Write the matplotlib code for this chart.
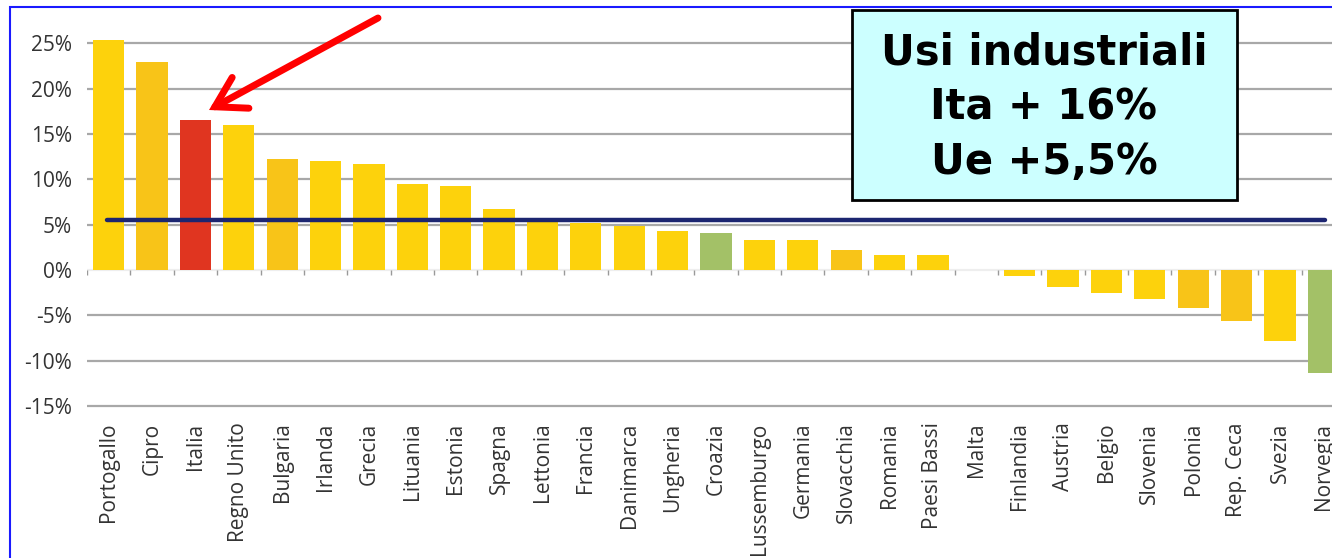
import numpy as np
import matplotlib.pyplot as plt
from matplotlib.patches import Rectangle, FancyArrowPatch

countries = ["Portogallo", "Cipro", "Italia", "Regno Unito", "Bulgaria", "Irlanda",
             "Grecia", "Lituania", "Estonia", "Spagna", "Lettonia", "Francia",
             "Danimarca", "Ungheria", "Croazia", "Lussemburgo", "Germania",
             "Slovacchia", "Romania", "Paesi Bassi", "Malta", "Finlandia",
             "Austria", "Belgio", "Slovenia", "Polonia", "Rep. Ceca", "Svezia",
             "Norvegia"]
values = [25.4, 23.0, 16.6, 16.0, 12.2, 12.0, 11.7, 9.5, 9.3, 6.7, 5.5, 5.2,
          4.9, 4.3, 4.1, 3.3, 3.3, 2.2, 1.7, 1.7, 0.0, -0.7, -1.9, -2.5, -3.2,
          -4.2, -5.6, -7.8, -11.4]
ue_avg = 5.5
yticks = [-15, -10, -5, 0, 5, 10, 15, 20, 25]

YEL = "#FDD20C"
ORA = "#F8C418"
RED = "#E03520"
GRN = "#A3C167"
shade = {"Cipro": ORA, "Bulgaria": ORA, "Slovacchia": ORA, "Polonia": ORA,
         "Rep. Ceca": ORA, "Italia": RED, "Croazia": GRN, "Norvegia": GRN}
colors = [shade.get(c, YEL) for c in countries]

W, H = 1332, 558
fig = plt.figure(figsize=(W / 100, H / 100), dpi=100)
ax = fig.add_axes([87 / W, 1 - 410 / H, 1245 / W, 372 / H])

x = np.arange(len(countries))
ax.set_xlim(-0.5, 28.2)
ax.set_ylim(-15.45, 25.6)

for t in yticks:
    ax.axhline(t, color="#eeeeee" if t == 0 else "#a8a8a8", lw=1.6, zorder=0)

ax.bar(x, values, width=0.72, color=colors, zorder=2)
ax.vlines(x - 0.5, -0.6, 0, color="#999999", lw=1, zorder=1)

ax.plot([x[0] - 0.05, x[-1] + 0.05], [ue_avg, ue_avg], color="#1c2570",
        lw=3.2, solid_capstyle="round", zorder=3)

ax.set_yticks(yticks)
ax.set_yticklabels([f"{t}%" for t in yticks], fontsize=15, color="#333333",
                   family="Open Sans")
ax.set_xticks(x)
ax.set_xticklabels(countries, rotation=90, fontsize=15, color="#333333",
                   va="top", family="Open Sans")
ax.tick_params(axis="both", length=0)
ax.tick_params(axis="y", pad=11)
ax.tick_params(axis="x", pad=9)
for s in ax.spines.values():
    s.set_visible(False)

# box with the summary
fig.add_artist(Rectangle((852 / W, 1 - 200 / H), 385 / W, 190 / H,
                         transform=fig.transFigure, facecolor="#ccffff",
                         edgecolor="black", lw=2, zorder=5))
fig.text(1044 / W, 1 - 107 / H, "Usi industriali\nIta + 16%\nUe +5,5%",
         ha="center", va="center", fontsize=30, fontweight="bold",
         linespacing=1.38, family="DejaVu Sans", zorder=6)

# arrow pointing at Italia
fig.add_artist(FancyArrowPatch((378 / W, 1 - 18 / H), (209 / W, 1 - 110 / H),
                               transform=fig.transFigure,
                               arrowstyle="->,head_length=1.0,head_width=0.6",
                               mutation_scale=21, color="#ff0000", lw=5,
                               capstyle="round", joinstyle="miter",
                               shrinkA=0, shrinkB=0, zorder=7))

# blue frame
fig.add_artist(Rectangle((10 / W, -0.01), 1.1, 1 - 7 / H + 0.01,
                         transform=fig.transFigure, fill=False,
                         edgecolor="#1a1aff", lw=1.5, zorder=8))

plt.savefig("out.png", dpi=100)
